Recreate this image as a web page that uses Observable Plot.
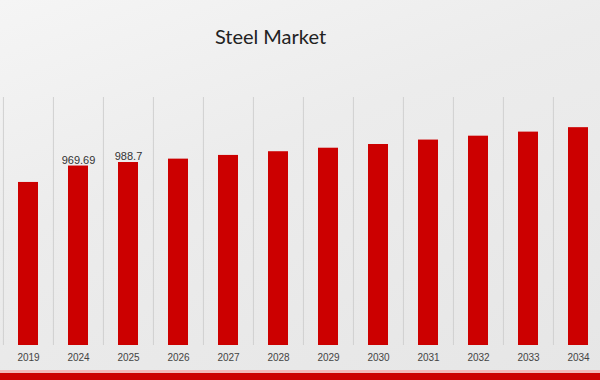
<!DOCTYPE html>
<html><head><meta charset="utf-8">
<script src="https://cdn.jsdelivr.net/npm/d3@7"></script>
<script src="https://cdn.jsdelivr.net/npm/@observablehq/plot@0.6"></script>
<style>
html,body{margin:0;padding:0;}
body{width:600px;height:380px;overflow:hidden;position:relative;background:linear-gradient(160deg,#f5f5f5 0%,#ececec 40%,#e6e6e6 100%);font-family:"Liberation Sans",Arial,sans-serif;}
#title{position:absolute;left:0;top:24px;width:541px;text-align:center;font-family:Lato,sans-serif;font-size:20px;line-height:24px;color:#222;}
#chart{position:absolute;left:0;top:0;}
#band1{position:absolute;left:0;top:370px;width:600px;height:3px;background:#f2b8b8;}
#band2{position:absolute;left:0;top:373px;width:600px;height:7px;background:#cc0000;}
</style>
</head><body>
<div id="chart"></div>
<div id="title">Steel Market</div>
<div id="band1"></div><div id="band2"></div>
<script>
const years = ["2019","2024","2025","2026","2027","2028","2029","2030","2031","2032","2033","2034"];
const values = [881, 969.69, 988.7, 1007, 1027, 1047, 1066, 1086, 1110, 1131, 1153, 1177];
const valueLabels = ["", "969.69", "988.7", "", "", "", "", "", "", "", "", ""];

const data = years.map((y, i) => ({year: y, value: values[i], label: valueLabels[i]}));
const labeled = data.filter(d => d.label !== "");

const xRange = [2, 604];
const step = (xRange[1] - xRange[0]) / years.length;

const chart = Plot.plot({
  width: 600,
  height: 380,
  marginTop: 97,
  marginBottom: 35,
  marginLeft: 0,
  marginRight: 0,
  style: {background: "transparent", overflow: "visible", fontFamily: "'Liberation Sans', Arial, sans-serif"},
  x: {type: "band", domain: years, range: xRange, paddingInner: 0.6, paddingOuter: 0.3, axis: null},
  y: {domain: [0, 1340], axis: null},
  marks: [
    Plot.ruleX(years, {x: d => d, dx: -step / 2, y1: 0, y2: 1340, stroke: "#d0d0d0", strokeWidth: 1}),
    Plot.barY(data, {x: "year", y: "value", fill: "#cc0000"}),
    Plot.text(labeled, {x: "year", y: "value", text: "label", dy: -2.5, lineAnchor: "bottom", fontSize: 11, fill: "#333"}),
    Plot.axisX({tickSize: 0, tickPadding: 8, fontSize: 10, color: "#444"})
  ]
});
document.getElementById("chart").appendChild(chart);
</script>
</body></html>
